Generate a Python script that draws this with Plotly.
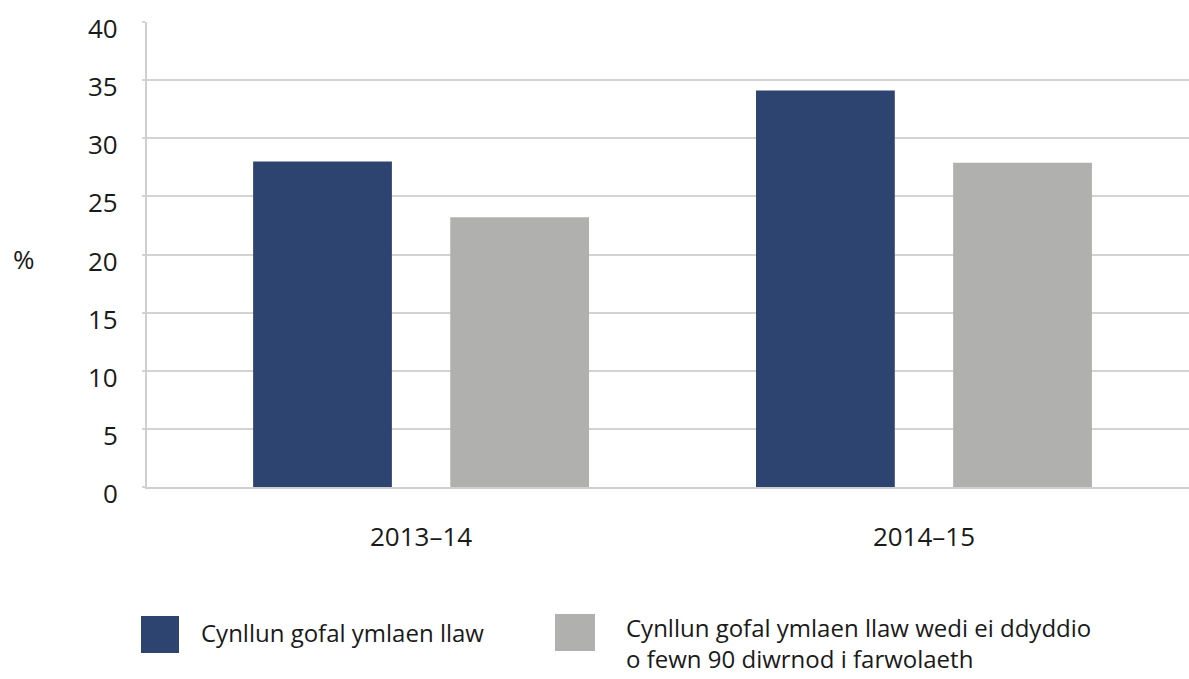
import plotly.graph_objects as go

# Data
years = ["2013–14", "2014–15"]
series_names = [
    "Cynllun gofal ymlaen llaw",
    "Cynllun gofal ymlaen llaw wedi ei ddyddio<br>o fewn 90 diwrnod i farwolaeth",
]
plan_values = [28.0, 34.1]
plan_updated_values = [23.2, 27.9]
y_ticks = [0, 5, 10, 15, 20, 25, 30, 35, 40]

BLUE = "#2E4470"
GREY = "#B0B0AF"
GRID = "#D3D3D3"
FONT = "Open Sans"
TEXT = "#1a1a1a"

W, H = 1189, 679
L, R, T, B = 147, 0, 22, 192

fig = go.Figure()
fig.add_trace(go.Bar(x=years, y=plan_values, name=series_names[0],
                     marker=dict(color=BLUE, line=dict(width=0)), showlegend=False))
fig.add_trace(go.Bar(x=years, y=plan_updated_values, name=series_names[1],
                     marker=dict(color=GREY, line=dict(width=0)), showlegend=False))

plot_w = W - L - R
plot_h = H - T - B


def px_x(px):
    return (px - L) / plot_w


def px_y(py):
    return (H - B - py) / plot_h


annotations = []
# y tick labels, sitting slightly below their gridlines
for v in y_ticks:
    annotations.append(dict(x=0, xref="paper", y=v, yref="y", text=str(v),
                            xanchor="right", yanchor="middle", xshift=-27, yshift=-6,
                            showarrow=False, font=dict(family=FONT, size=26, color=TEXT)))
# y axis unit
annotations.append(dict(x=px_x(24), xref="paper", y=20, yref="y", text="%",
                        xanchor="center", yanchor="middle", yshift=-4, showarrow=False,
                        font=dict(family=FONT, size=26, color=TEXT)))

# custom legend: large swatches with text anchored at the first line's top
swatches = [
    (141, 179, 616, 653, BLUE, 200, 615, series_names[0]),
    (555, 595, 614, 651, GREY, 625, 610, series_names[1]),
]
shapes = []
for x0, x1, y0, y1, col, tx, ty, label in swatches:
    shapes.append(dict(type="rect", xref="paper", yref="paper",
                       x0=px_x(x0), x1=px_x(x1), y0=px_y(y1), y1=px_y(y0),
                       fillcolor=col, line=dict(width=0)))
    annotations.append(dict(x=px_x(tx), xref="paper", y=px_y(ty), yref="paper",
                            text=label, xanchor="left", yanchor="top", align="left",
                            showarrow=False, borderpad=0,
                            font=dict(family=FONT, size=24, color=TEXT)))

fig.update_layout(
    width=W, height=H,
    margin=dict(l=L, r=R, t=T, b=B, pad=0),
    paper_bgcolor="white", plot_bgcolor="white",
    barmode="group", bargap=0.216, bargroupgap=0.296,
    font=dict(family=FONT, size=26, color=TEXT),
    xaxis=dict(range=[-0.545, 1.527], showgrid=False, showline=True,
               linecolor="#CFCFCF", linewidth=2, ticks="", ticklabelstandoff=26,
               tickfont=dict(family=FONT, size=26, color=TEXT), zeroline=False),
    yaxis=dict(range=[0, 40], tickvals=y_ticks, showticklabels=False,
               showgrid=True, gridcolor=GRID, gridwidth=1.6,
               ticks="outside", ticklen=3, tickcolor=GRID, tickwidth=1.6,
               showline=True, linecolor="#CFCFCF", linewidth=1.6, zeroline=False),
    shapes=shapes,
    annotations=annotations,
)

fig.write_html("out.html")
